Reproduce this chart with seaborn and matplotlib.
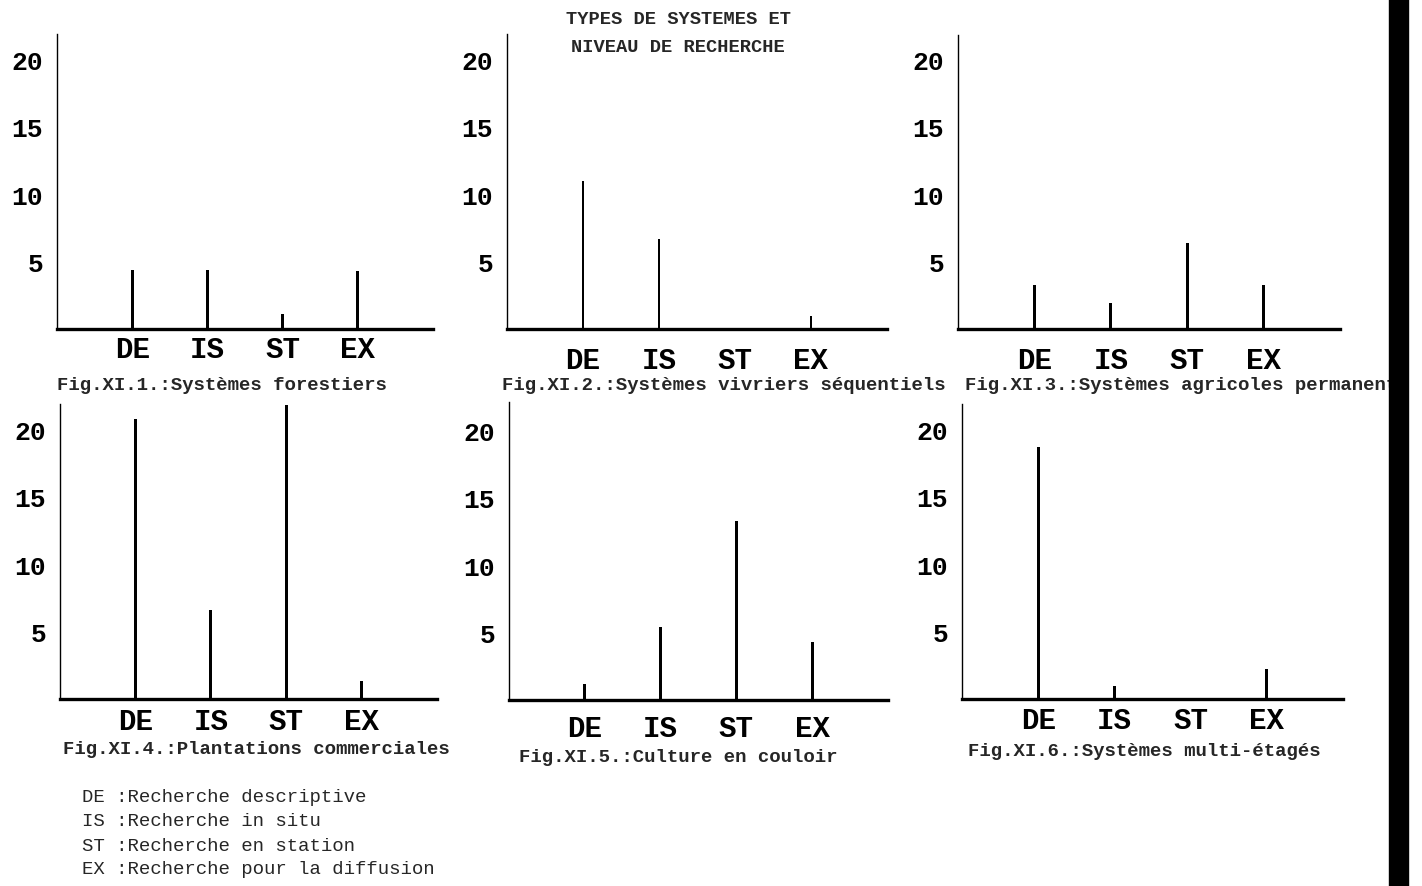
import seaborn as sns
import pandas as pd
import matplotlib.pyplot as plt
from matplotlib.patches import Rectangle

# research levels
categories = ["DE", "IS", "ST", "EX"]

# values
forestiers = [4.4, 4.4, 1.1, 4.3]
vivriers = [11.0, 6.7, 0.0, 1.0]
agricoles = [3.3, 1.9, 6.4, 3.3]
plantations = [20.8, 6.6, 21.8, 1.3]
couloir = [1.2, 5.4, 13.3, 4.3]
multi_etages = [18.7, 1.0, 0.0, 2.2]

captions = [
    "Fig.XI.1.:Systèmes forestiers",
    "Fig.XI.2.:Systèmes vivriers séquentiels",
    "Fig.XI.3.:Systèmes agricoles permanents",
    "Fig.XI.4.:Plantations commerciales",
    "Fig.XI.5.:Culture en couloir",
    "Fig.XI.6.:Systèmes multi-étagés",
]
y_ticks = [5, 10, 15, 20]
legend_lines = [
    "DE :Recherche descriptive",
    "IS :Recherche in situ",
    "ST :Recherche en station",
    "EX :Recherche pour la diffusion",
]

sns.set_theme(style="white")
plt.rcParams["font.family"] = ["Liberation Mono", "DejaVu Sans Mono"]

W, H = 1422, 887
fig = plt.figure(figsize=(W / 100, H / 100), dpi=100)

# axes boxes in pixels: left, baseline, right, top ; x-label pad ; caption pos
panels = [
    (forestiers, (57, 330, 433, 35), 4, (57, 386)),
    (vivriers, (507, 330, 887, 35), 12, (502, 385)),
    (agricoles, (958, 330, 1340, 36), 12, (965, 386)),
    (plantations, (60, 700, 437, 405), 6, (63, 750)),
    (couloir, (509, 701, 888, 403), 10, (519, 757)),
    (multi_etages, (962, 700, 1343, 405), 5, (968, 751)),
]

for i, (vals, (l, b, r, t), xpad, (cx, cy)) in enumerate(panels):
    ax = fig.add_axes([l / W, 1 - b / H, (r - l) / W, (b - t) / H])
    df = pd.DataFrame({"niveau": categories, "n": vals})
    sns.barplot(data=df, x="niveau", y="n", color="black", width=0.035,
                linewidth=0, ax=ax)
    ax.set_xlim(-1, 4)
    ax.set_ylim(0, (b - t) / 13.47)
    ax.set_yticks(y_ticks)
    ax.set_xlabel("")
    ax.set_ylabel("")
    for side in ["top", "right"]:
        ax.spines[side].set_visible(False)
    ax.spines["left"].set_linewidth(1.0)
    ax.spines["left"].set_color("black")
    ax.spines["bottom"].set_linewidth(2.4)
    ax.spines["bottom"].set_color("black")
    ax.tick_params(axis="y", length=0, pad=10, labelsize=19)
    ax.tick_params(axis="x", length=0, pad=xpad, labelsize=21)
    for lab in ax.get_xticklabels() + ax.get_yticklabels():
        lab.set_fontweight("bold")
        lab.set_color("black")
    fig.text(cx / W, 1 - cy / H, captions[i], fontsize=13.7,
             fontweight="bold", ha="left", va="center")

fig.text(678 / W, 1 - 20 / H, "TYPES DE SYSTEMES ET", fontsize=13.5,
         fontweight="bold", ha="center", va="center")
fig.text(678 / W, 1 - 47 / H, "NIVEAU DE RECHERCHE", fontsize=13.5,
         fontweight="bold", ha="center", va="center")

for k, line in enumerate(legend_lines):
    fig.text(82 / W, 1 - [798, 822, 847, 870][k] / H, line, fontsize=13.7,
             ha="left", va="center")

# dark scan border on the right edge
fig.patches.append(Rectangle((1389 / W, 0), 19 / W, 1, transform=fig.transFigure,
                             color="black", zorder=10))

fig.savefig("out.png", dpi=100)
